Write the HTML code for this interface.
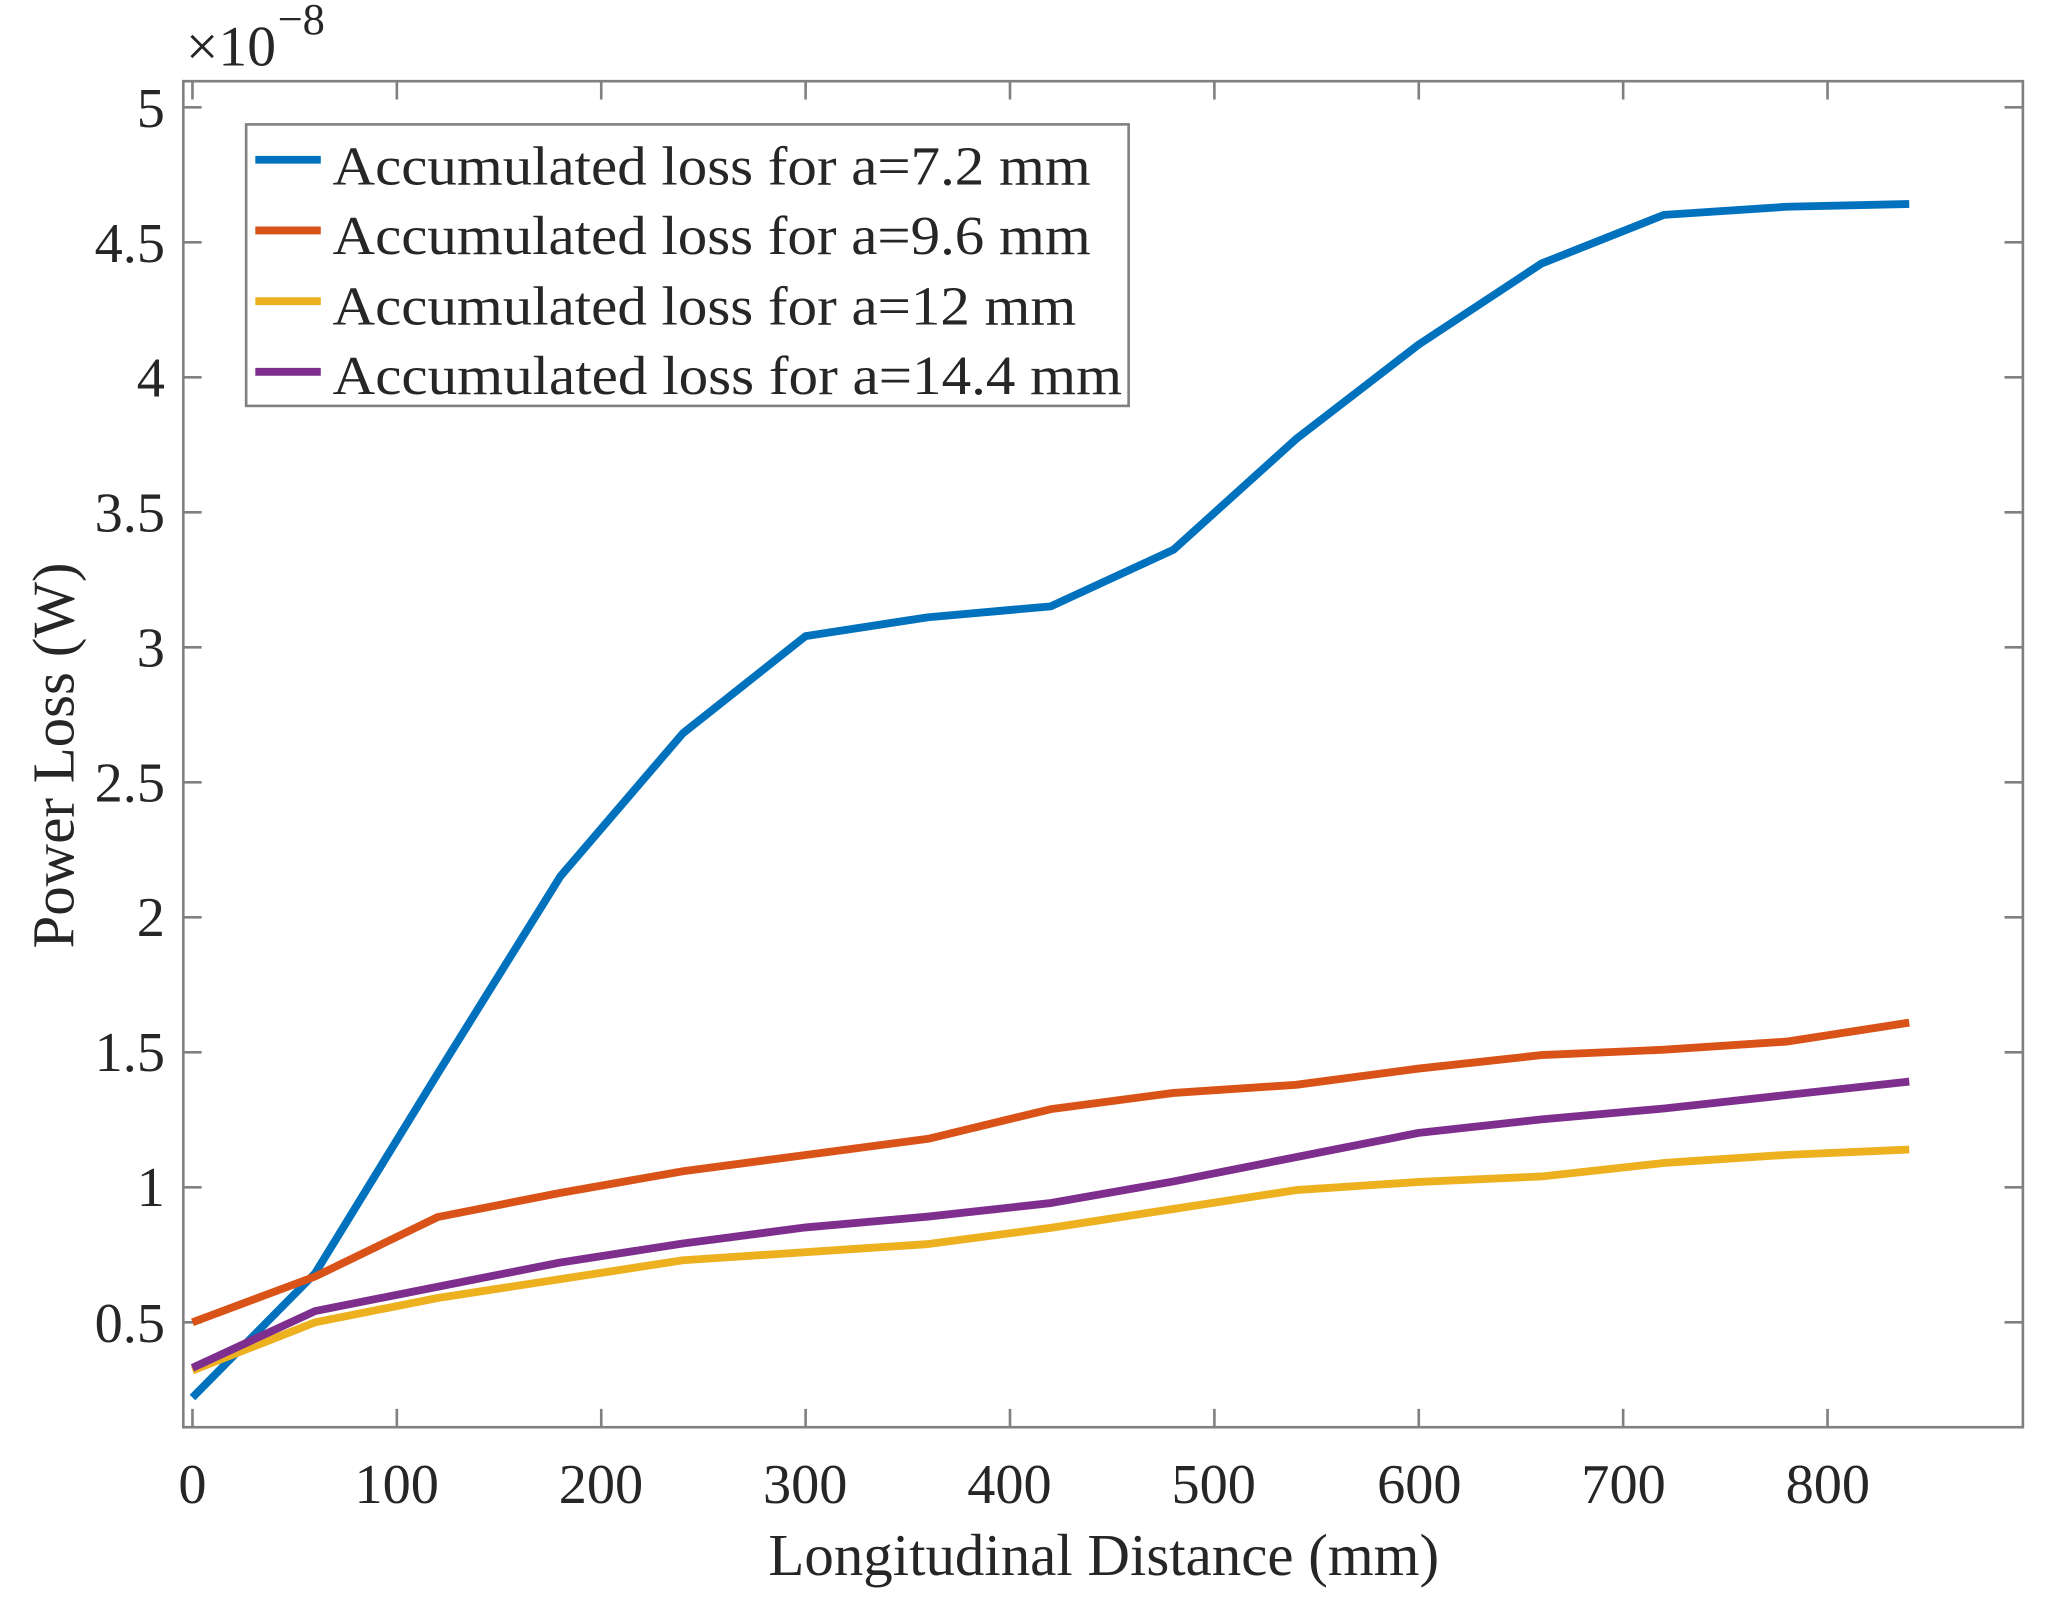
<!DOCTYPE html>
<html><head><meta charset="utf-8"><style>html,body{margin:0;padding:0;background:#fff}svg{display:block}</style></head>
<body>
<svg width="2053" height="1610" viewBox="0 0 1568 1229.6" preserveAspectRatio="none" xmlns="http://www.w3.org/2000/svg" font-family="'Liberation Serif', serif" fill="#262626">
<rect x="0" y="0" width="1568" height="1229.6" fill="#fff"/>
<g stroke="#808080" stroke-width="2" fill="none">
<rect x="140" y="62" width="1405" height="1028"/>
</g>
<g stroke="#808080" stroke-width="2">
<line x1="147" y1="1090" x2="147" y2="1076"/><line x1="147" y1="62" x2="147" y2="76"/>
<line x1="303.1" y1="1090" x2="303.1" y2="1076"/><line x1="303.1" y1="62" x2="303.1" y2="76"/>
<line x1="459.2" y1="1090" x2="459.2" y2="1076"/><line x1="459.2" y1="62" x2="459.2" y2="76"/>
<line x1="615.3" y1="1090" x2="615.3" y2="1076"/><line x1="615.3" y1="62" x2="615.3" y2="76"/>
<line x1="771.4" y1="1090" x2="771.4" y2="1076"/><line x1="771.4" y1="62" x2="771.4" y2="76"/>
<line x1="927.5" y1="1090" x2="927.5" y2="1076"/><line x1="927.5" y1="62" x2="927.5" y2="76"/>
<line x1="1083.6" y1="1090" x2="1083.6" y2="1076"/><line x1="1083.6" y1="62" x2="1083.6" y2="76"/>
<line x1="1239.7" y1="1090" x2="1239.7" y2="1076"/><line x1="1239.7" y1="62" x2="1239.7" y2="76"/>
<line x1="1395.8" y1="1090" x2="1395.8" y2="1076"/><line x1="1395.8" y1="62" x2="1395.8" y2="76"/>
</g>
<g stroke="#808080" stroke-width="2">
<line x1="140" y1="82" x2="154" y2="82"/><line x1="1545" y1="82" x2="1531" y2="82"/>
<line x1="140" y1="185.1" x2="154" y2="185.1"/><line x1="1545" y1="185.1" x2="1531" y2="185.1"/>
<line x1="140" y1="288.2" x2="154" y2="288.2"/><line x1="1545" y1="288.2" x2="1531" y2="288.2"/>
<line x1="140" y1="391.3" x2="154" y2="391.3"/><line x1="1545" y1="391.3" x2="1531" y2="391.3"/>
<line x1="140" y1="494.4" x2="154" y2="494.4"/><line x1="1545" y1="494.4" x2="1531" y2="494.4"/>
<line x1="140" y1="597.5" x2="154" y2="597.5"/><line x1="1545" y1="597.5" x2="1531" y2="597.5"/>
<line x1="140" y1="700.6" x2="154" y2="700.6"/><line x1="1545" y1="700.6" x2="1531" y2="700.6"/>
<line x1="140" y1="803.7" x2="154" y2="803.7"/><line x1="1545" y1="803.7" x2="1531" y2="803.7"/>
<line x1="140" y1="906.8" x2="154" y2="906.8"/><line x1="1545" y1="906.8" x2="1531" y2="906.8"/>
<line x1="140" y1="1009.9" x2="154" y2="1009.9"/><line x1="1545" y1="1009.9" x2="1531" y2="1009.9"/>
</g>
<g font-size="43" text-anchor="end">
<text x="126" y="97">5</text><text x="126" y="200">4.5</text><text x="126" y="303">4</text>
<text x="126" y="406">3.5</text><text x="126" y="509">3</text><text x="126" y="612">2.5</text>
<text x="126" y="715">2</text><text x="126" y="818">1.5</text><text x="126" y="921">1</text>
<text x="126" y="1025">0.5</text>
</g>
<g font-size="43" text-anchor="middle">
<text x="147" y="1148">0</text><text x="303" y="1148">100</text><text x="459" y="1148">200</text>
<text x="615" y="1148">300</text><text x="771" y="1148">400</text><text x="927" y="1148">500</text>
<text x="1084" y="1148">600</text><text x="1240" y="1148">700</text><text x="1396" y="1148">800</text>
</g>
<text x="843" y="1203" font-size="45" text-anchor="middle">Longitudinal Distance (mm)</text>
<text transform="translate(56,577) rotate(-90)" font-size="45" text-anchor="middle">Power Loss (W)</text>
<text x="142" y="50" font-size="44">×10</text><text x="212" y="26" font-size="34">−8</text>
<g fill="none" stroke-width="6" stroke-linejoin="round">
<polyline stroke="#0072BD" points="147,1067.3 240.7,972.4 334.3,819.9 428,669.3 521.6,560.0 615.3,485.8 709,471.4 802.6,463.1 896.3,419.8 989.9,335.3 1083.6,263.1 1177.3,201.3 1270.9,164.1 1364.6,157.9 1458.2,155.8"/>
<polyline stroke="#D95319" points="147,1009.9 240.7,974.9 334.3,929.5 428,911.0 521.6,894.5 615.3,882.1 709,869.7 802.6,847.1 896.3,834.7 989.9,828.5 1083.6,816.1 1177.3,805.8 1270.9,801.7 1364.6,795.5 1458.2,781.0"/>
<polyline stroke="#EDB120" points="147,1046.7 240.7,1009.9 334.3,991.3 428,976.9 521.6,962.5 615.3,956.3 709,950.1 802.6,937.7 896.3,923.3 989.9,908.9 1083.6,902.7 1177.3,898.5 1270.9,888.2 1364.6,882.0 1458.2,877.9"/>
<polyline stroke="#7E2F8E" points="147,1044.6 240.7,1001.3 334.3,982.7 428,964.2 521.6,949.7 615.3,937.4 709,929.1 802.6,918.8 896.3,902.3 989.9,883.7 1083.6,865.2 1177.3,854.9 1270.9,846.6 1364.6,836.3 1458.2,826.0"/>
</g>
<rect x="188" y="95" width="674" height="215" fill="#fff" stroke="#808080" stroke-width="2"/>
<g stroke-width="6">
<line x1="195" y1="122" x2="245" y2="122" stroke="#0072BD"/>
<line x1="195" y1="176" x2="245" y2="176" stroke="#D95319"/>
<line x1="195" y1="230" x2="245" y2="230" stroke="#EDB120"/>
<line x1="195" y1="284" x2="245" y2="284" stroke="#7E2F8E"/>
</g>
<g font-size="42">
<text x="254" y="141" textLength="579" lengthAdjust="spacingAndGlyphs">Accumulated loss for a=7.2 mm</text>
<text x="254" y="194" textLength="579" lengthAdjust="spacingAndGlyphs">Accumulated loss for a=9.6 mm</text>
<text x="254" y="248" textLength="568" lengthAdjust="spacingAndGlyphs">Accumulated loss for a=12 mm</text>
<text x="254" y="301" textLength="603" lengthAdjust="spacingAndGlyphs">Accumulated loss for a=14.4 mm</text>
</g>
</svg>
</body></html>
